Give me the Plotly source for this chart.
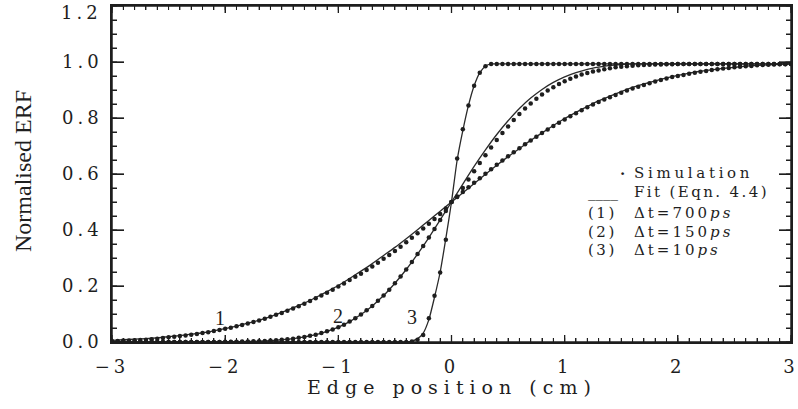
import plotly.graph_objects as go

# ---------------- data ----------------
X_SIM = [-3.00, -2.95, -2.90, -2.85, -2.80, -2.75, -2.70, -2.65, -2.60, -2.55,
         -2.50, -2.45, -2.40, -2.35, -2.30, -2.25, -2.20, -2.15, -2.10, -2.05,
         -2.00, -1.95, -1.90, -1.85, -1.80, -1.75, -1.70, -1.65, -1.60, -1.55,
         -1.50, -1.45, -1.40, -1.35, -1.30, -1.25, -1.20, -1.15, -1.10, -1.05,
         -1.00, -0.95, -0.90, -0.85, -0.80, -0.75, -0.70, -0.65, -0.60, -0.55,
         -0.50, -0.45, -0.40, -0.35, -0.30, -0.25, -0.20, -0.15, -0.10, -0.05,
         0.00,
         0.05, 0.10, 0.15, 0.20, 0.25, 0.30, 0.35, 0.40, 0.45, 0.50,
         0.55, 0.60, 0.65, 0.70, 0.75, 0.80, 0.85, 0.90, 0.95, 1.00,
         1.05, 1.10, 1.15, 1.20, 1.25, 1.30, 1.35, 1.40, 1.45, 1.50,
         1.55, 1.60, 1.65, 1.70, 1.75, 1.80, 1.85, 1.90, 1.95, 2.00,
         2.05, 2.10, 2.15, 2.20, 2.25, 2.30, 2.35, 2.40, 2.45, 2.50,
         2.55, 2.60, 2.65, 2.70, 2.75, 2.80, 2.85, 2.90, 2.95, 3.00]

# (1) dt = 700 ps, simulation points
SIM_700 = [0.004, 0.004, 0.005, 0.005, 0.006, 0.007, 0.008, 0.010, 0.012, 0.014,
           0.017, 0.019, 0.021, 0.023, 0.026, 0.029, 0.032, 0.035, 0.039, 0.043,
           0.047, 0.051, 0.056, 0.061, 0.066, 0.071, 0.077, 0.083, 0.090, 0.097,
           0.104, 0.112, 0.120, 0.128, 0.137, 0.146, 0.156, 0.166, 0.176, 0.187,
           0.198, 0.209, 0.221, 0.233, 0.244, 0.257, 0.270, 0.283, 0.297, 0.311,
           0.325, 0.340, 0.356, 0.372, 0.388, 0.405, 0.422, 0.439, 0.457, 0.477,
           0.500,
           0.518, 0.536, 0.553, 0.569, 0.585, 0.601, 0.617, 0.633, 0.648, 0.663,
           0.678, 0.692, 0.706, 0.720, 0.733, 0.746, 0.759, 0.771, 0.783, 0.795,
           0.806, 0.817, 0.828, 0.838, 0.848, 0.857, 0.866, 0.874, 0.882, 0.890,
           0.898, 0.905, 0.912, 0.918, 0.924, 0.930, 0.936, 0.941, 0.946, 0.950,
           0.954, 0.958, 0.962, 0.965, 0.968, 0.971, 0.974, 0.977, 0.979, 0.981,
           0.983, 0.985, 0.986, 0.988, 0.989, 0.990, 0.991, 0.992, 0.992, 0.993]

# (2) dt = 150 ps, simulation points
SIM_150 = [0.000, 0.000, 0.000, 0.000, 0.000, 0.000, 0.000, 0.000, 0.000, 0.000,
           0.000, 0.000, 0.000, 0.000, 0.000, 0.000, 0.000, 0.000, 0.000, 0.000,
           0.001, 0.001, 0.001, 0.002, 0.002, 0.003, 0.003, 0.004, 0.005, 0.006,
           0.008, 0.010, 0.012, 0.015, 0.018, 0.022, 0.026, 0.032, 0.038, 0.045,
           0.053, 0.062, 0.073, 0.085, 0.098, 0.113, 0.129, 0.147, 0.166, 0.187,
           0.210, 0.234, 0.259, 0.286, 0.314, 0.343, 0.373, 0.404, 0.436, 0.468,
           0.500,
           0.520, 0.550, 0.580, 0.610, 0.639, 0.667, 0.695, 0.721, 0.746, 0.770,
           0.793, 0.814, 0.834, 0.852, 0.869, 0.884, 0.898, 0.910, 0.921, 0.931,
           0.940, 0.948, 0.955, 0.961, 0.966, 0.970, 0.974, 0.978, 0.981, 0.983,
           0.985, 0.987, 0.988, 0.989, 0.990, 0.991, 0.991, 0.992, 0.992, 0.993,
           0.993, 0.993, 0.993, 0.993, 0.993, 0.993, 0.993, 0.993, 0.993, 0.993,
           0.993, 0.993, 0.993, 0.993, 0.993, 0.993, 0.993, 0.993, 0.993, 0.993]

# (3) dt = 10 ps, simulation points
SIM_10 = [0.000, 0.000, 0.000, 0.000, 0.000, 0.000, 0.000, 0.000, 0.000, 0.000,
          0.000, 0.000, 0.000, 0.000, 0.000, 0.000, 0.000, 0.000, 0.000, 0.000,
          0.000, 0.000, 0.000, 0.000, 0.000, 0.000, 0.000, 0.000, 0.000, 0.000,
          0.000, 0.000, 0.000, 0.000, 0.000, 0.000, 0.000, 0.000, 0.000, 0.000,
          0.000, 0.000, 0.000, 0.000, 0.000, 0.000, 0.000, 0.000, 0.000, 0.000,
          0.000, 0.000, 0.000, 0.002, 0.008, 0.025, 0.085, 0.165, 0.248, 0.365,
          0.500,
          0.655, 0.760, 0.845, 0.915, 0.962, 0.985, 0.993, 0.993, 0.993, 0.993,
          0.993, 0.993, 0.993, 0.993, 0.993, 0.993, 0.993, 0.993, 0.993, 0.993,
          0.993, 0.993, 0.993, 0.993, 0.993, 0.993, 0.993, 0.993, 0.993, 0.993,
          0.993, 0.993, 0.993, 0.993, 0.993, 0.993, 0.993, 0.993, 0.993, 0.993,
          0.993, 0.993, 0.993, 0.993, 0.993, 0.993, 0.993, 0.993, 0.993, 0.993,
          0.993, 0.993, 0.993, 0.993, 0.993, 0.993, 0.993, 0.993, 0.993, 0.993]

# Fit curves (Eqn. 4.4)
X_FIT = [-3.0, -2.9, -2.8, -2.7, -2.6, -2.5, -2.4, -2.3, -2.2, -2.1,
         -2.0, -1.9, -1.8, -1.7, -1.6, -1.5, -1.4, -1.3, -1.2, -1.1,
         -1.0, -0.9, -0.8, -0.7, -0.6, -0.5, -0.4, -0.3, -0.2, -0.1,
         0.0,
         0.1, 0.2, 0.3, 0.4, 0.5, 0.6, 0.7, 0.8, 0.9, 1.0,
         1.1, 1.2, 1.3, 1.4, 1.5, 1.6, 1.7, 1.8, 1.9, 2.0,
         2.1, 2.2, 2.3, 2.4, 2.5, 2.6, 2.7, 2.8, 2.9, 3.0]

FIT_700 = [0.006, 0.008, 0.010, 0.012, 0.015, 0.019, 0.023, 0.028, 0.033, 0.040,
           0.048, 0.057, 0.067, 0.078, 0.091, 0.106, 0.122, 0.139, 0.159, 0.180,
           0.202, 0.227, 0.253, 0.280, 0.309, 0.338, 0.369, 0.401, 0.434, 0.467,
           0.500,
           0.533, 0.566, 0.599, 0.631, 0.662, 0.691, 0.720, 0.747, 0.773, 0.798,
           0.820, 0.841, 0.861, 0.878, 0.894, 0.909, 0.922, 0.933, 0.943, 0.952,
           0.960, 0.967, 0.972, 0.977, 0.981, 0.985, 0.988, 0.990, 0.992, 0.993]

FIT_150 = [0.000, 0.000, 0.000, 0.000, 0.000, 0.000, 0.000, 0.000, 0.000, 0.000,
           0.001, 0.001, 0.002, 0.003, 0.005, 0.008, 0.012, 0.018, 0.026, 0.038,
           0.053, 0.073, 0.098, 0.129, 0.166, 0.210, 0.259, 0.314, 0.373, 0.436,
           0.500,
           0.564, 0.627, 0.686, 0.741, 0.790, 0.834, 0.871, 0.902, 0.927, 0.947,
           0.962, 0.974, 0.982, 0.988, 0.991, 0.993, 0.993, 0.993, 0.993, 0.993,
           0.993, 0.993, 0.993, 0.993, 0.993, 0.993, 0.993, 0.993, 0.993, 0.993]

X_FIT_10 = [-3.0, -0.45, -0.40, -0.35, -0.30, -0.25, -0.20, -0.15, -0.10, -0.05,
            0.00, 0.05, 0.10, 0.15, 0.20, 0.25, 0.30, 0.35, 0.40, 3.0]
FIT_10 = [0.000, 0.000, 0.000, 0.003, 0.012, 0.032, 0.080, 0.160, 0.250, 0.370,
          0.500, 0.650, 0.755, 0.845, 0.915, 0.962, 0.985, 0.993, 0.993, 0.993]

X_TICKS = [-3, -2, -1, 0, 1, 2, 3]
X_TICK_LABELS = ["\u22123", "\u22122", "\u22121", "0", "1", "2", "3"]
Y_TICKS = [0.0, 0.2, 0.4, 0.6, 0.8, 1.0, 1.2]
Y_TICK_LABELS = ["0.0", "0.2", "0.4", "0.6", "0.8", "1.0", "1.2"]

CURVE_LABELS = ["1", "2", "3"]
CURVE_LABEL_POS = [(-2.05, 0.086), (-1.0, 0.093), (-0.35, 0.089)]

# ---------------- styling ----------------
INK = "#1e1e1e"
SERIF = "DejaVu Serif"
TIMES = "Liberation Serif"

X_MINOR = [round(-3 + 0.1 * i, 2) for i in range(61)]
Y_MINOR = [round(0.05 * i, 2) for i in range(25)]


def spaced(t, px):
    return '<span style="letter-spacing:%spx">%s</span>' % (px, t)


fig = go.Figure()

for xs, ys in [(X_FIT, FIT_700), (X_FIT, FIT_150), (X_FIT_10, FIT_10)]:
    fig.add_trace(go.Scatter(x=xs, y=ys, mode="lines",
                             line=dict(color="#2a2a2a", width=1.3, shape="spline", smoothing=0.6),
                             showlegend=False, hoverinfo="skip"))

for ys in [SIM_700, SIM_150, SIM_10]:
    fig.add_trace(go.Scatter(x=X_SIM, y=ys, mode="markers",
                             marker=dict(color=INK, size=4.5),
                             showlegend=False))

axis_common = dict(showline=True, linecolor=INK, linewidth=1.5, mirror="allticks",
                   showgrid=False, zeroline=False, ticks="inside", tickcolor=INK,
                   automargin=False, ticklabeloverflow="allow",
                   tickfont=dict(family=SERIF, size=18, color=INK))
# the top y label ("1.2") sits a little below its tick, as in the reference,
# so it is written as an annotation and left blank in the tick text
y_ticktext = [spaced(t, 4) for t in Y_TICK_LABELS[:-1]] + [""]

fig.update_xaxes(range=[-3, 3], tickmode="array", tickvals=X_TICKS,
                 ticktext=[spaced(t, 4) for t in X_TICK_LABELS],
                 ticklen=7, tickwidth=1.3, ticklabelstandoff=8,
                 minor=dict(tickmode="array", tickvals=X_MINOR, ticks="inside",
                            ticklen=4, tickwidth=1, tickcolor=INK, showgrid=False),
                 **axis_common)
fig.update_yaxes(range=[0, 1.2], tickmode="array", tickvals=Y_TICKS,
                 ticktext=y_ticktext,
                 ticklen=12, tickwidth=1.3, ticklabelstandoff=4,
                 minor=dict(tickmode="array", tickvals=Y_MINOR, ticks="inside",
                            ticklen=5, tickwidth=1, tickcolor=INK, showgrid=False),
                 **axis_common)

# ---- frame and inward tick marks drawn again as layout shapes ----
shapes = [dict(type="rect", xref="paper", yref="paper", x0=0, x1=1, y0=0, y1=1,
               line=dict(color=INK, width=1.5), layer="above")]


def xtick(v, length, width):
    out = []
    for anchor, sgn in [(0, 1), (1, -1)]:
        out.append(dict(type="line", xref="x", x0=v, x1=v, yref="paper",
                        ysizemode="pixel", yanchor=anchor, y0=0, y1=sgn * length,
                        line=dict(color=INK, width=width), layer="above"))
    return out


def ytick(v, length, width):
    out = []
    for anchor, sgn in [(0, 1), (1, -1)]:
        out.append(dict(type="line", yref="y", y0=v, y1=v, xref="paper",
                        xsizemode="pixel", xanchor=anchor, x0=0, x1=sgn * length,
                        line=dict(color=INK, width=width), layer="above"))
    return out


for v in X_MINOR:
    shapes += xtick(v, 4, 1)
for v in X_TICKS:
    shapes += xtick(v, 7, 1.3)
for v in Y_MINOR:
    shapes += ytick(v, 5, 1)
for v in Y_TICKS:
    shapes += ytick(v, 12, 1.3)

annotations = []
annotations.append(dict(text=spaced(Y_TICK_LABELS[-1], 4), xref="paper", yref="y",
                        x=0, y=Y_TICKS[-1], xanchor="right", yanchor="middle",
                        xshift=-8, yshift=-6, showarrow=False,
                        font=dict(family=SERIF, size=18, color=INK)))
annotations.append(dict(text=spaced("Edge position (cm)", 6), xref="paper", yref="paper",
                        x=0.5, y=0, xanchor="center", yanchor="middle", yshift=-45,
                        showarrow=False, font=dict(family=SERIF, size=19, color=INK)))
annotations.append(dict(text="Normalised ERF", xref="paper", yref="paper",
                        x=0, y=0.5, xanchor="center", yanchor="middle", xshift=-89, yshift=3,
                        textangle=-90, showarrow=False,
                        font=dict(family=TIMES, size=24, color=INK)))
for lab, (lx, ly) in zip(CURVE_LABELS, CURVE_LABEL_POS):
    annotations.append(dict(text=lab, x=lx, y=ly, xref="x", yref="y", showarrow=False,
                            xanchor="center", yanchor="middle",
                            font=dict(family=TIMES, size=20, color=INK)))
LEG_FONT = dict(family=SERIF, size=15, color=INK)
legend_items = [
    ("<b>\u00b7</b>", 1.51, 0.600, "center"),
    (spaced("Simulation", 3.7), 1.598, 0.604, "left"),
    ("____", 1.19, 0.535, "left"),
    (spaced("Fit (Eqn. 4.4)", 2.4), 1.598, 0.535, "left"),
    (spaced("(1)", 2.5), 1.19, 0.460, "left"),
    (spaced("\u0394t=700<i>ps</i>", 3), 1.598, 0.460, "left"),
    (spaced("(2)", 2.5), 1.19, 0.394, "left"),
    (spaced("\u0394t=150<i>ps</i>", 3), 1.598, 0.394, "left"),
    (spaced("(3)", 2.5), 1.19, 0.328, "left"),
    (spaced("\u0394t=10<i>ps</i>", 3), 1.598, 0.328, "left"),
]
for txt, lx, ly, anc in legend_items:
    annotations.append(dict(text=txt, x=lx, y=ly, xref="x", yref="y", showarrow=False,
                            xanchor=anc, yanchor="middle", font=LEG_FONT))

fig.update_layout(width=798, height=409, autosize=False,
                  margin=dict(l=112, r=7, t=6, b=67),
                  plot_bgcolor="white", paper_bgcolor="white",
                  showlegend=False, annotations=annotations, shapes=shapes)

fig.write_html("out.html")
